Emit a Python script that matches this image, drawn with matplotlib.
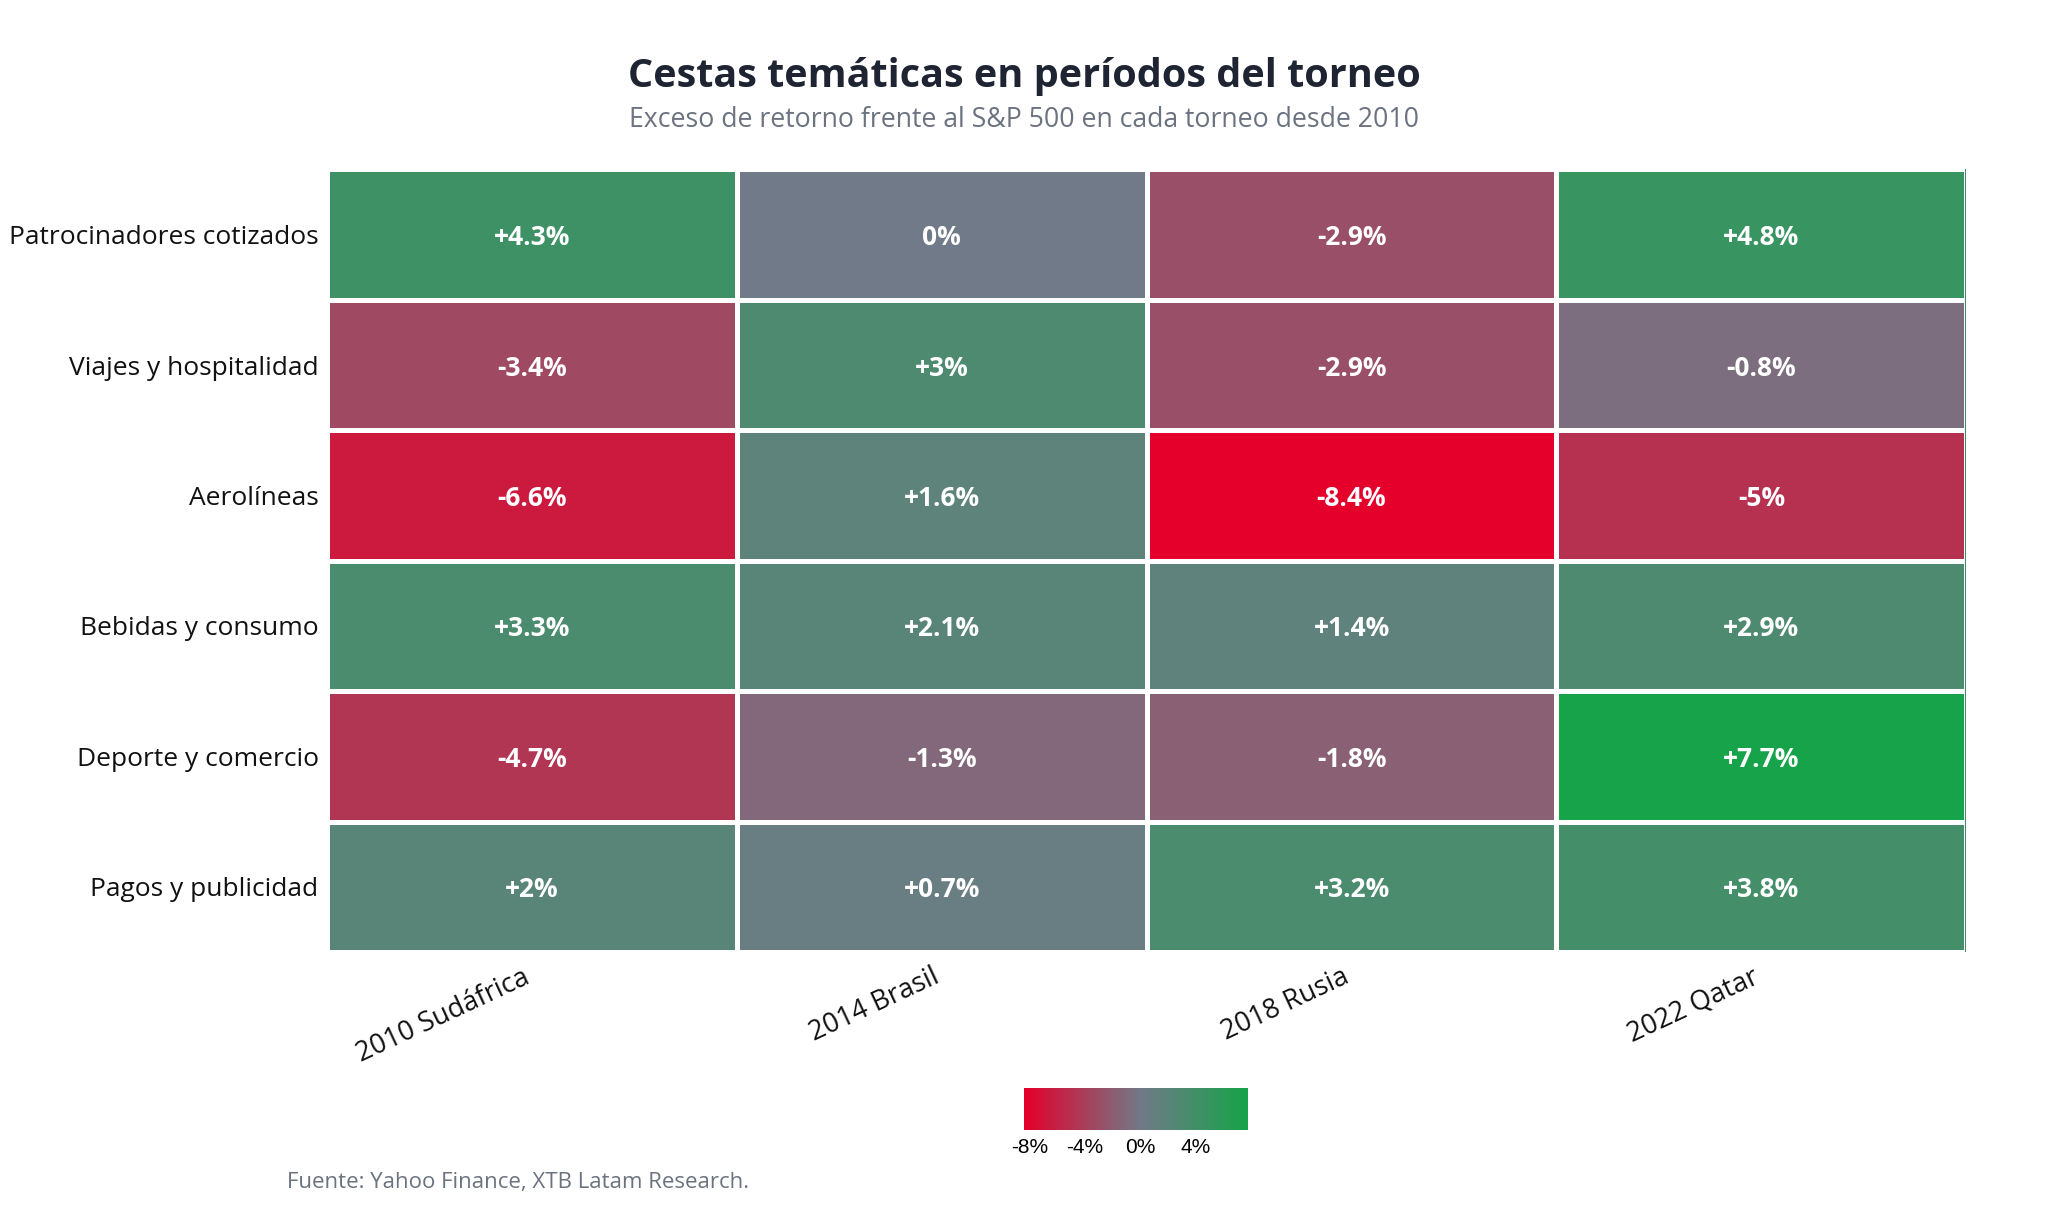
import numpy as np
import matplotlib.pyplot as plt
from matplotlib.colors import LinearSegmentedColormap, TwoSlopeNorm
from matplotlib.transforms import ScaledTranslation

plt.rcParams['font.family'] = ['Open Sans', 'DejaVu Sans']

# Datos
cestas = ["Patrocinadores cotizados", "Viajes y hospitalidad", "Aerolíneas",
          "Bebidas y consumo", "Deporte y comercio", "Pagos y publicidad"]
torneos = ["2010 Sudáfrica", "2014 Brasil", "2018 Rusia", "2022 Qatar"]
exceso = np.array([
    [4.3, 0.0, -2.9, 4.8],
    [-3.4, 3.0, -2.9, -0.8],
    [-6.6, 1.6, -8.4, -5.0],
    [3.3, 2.1, 1.4, 2.9],
    [-4.7, -1.3, -1.8, 7.7],
    [2.0, 0.7, 3.2, 3.8],
])
cb_ticks = [-8, -4, 0, 4]

cmap = LinearSegmentedColormap.from_list("rg", ["#E4002B", "#717A88", "#16A34A"])
norm = TwoSlopeNorm(vmin=exceso.min(), vcenter=0, vmax=exceso.max())

fig = plt.figure(figsize=(20.48, 12.22), dpi=100)
ax = fig.add_axes([0.1596, 0.2209, 0.8005, 0.6405])

ax.pcolormesh(exceso, cmap=cmap, norm=norm, edgecolors="white", linewidth=2.2)
ax.set_xlim(0, len(torneos))
ax.set_ylim(len(cestas), 0)

def fmt(v):
    if v == 0:
        return "0%"
    s = f"{v:+.1f}".rstrip("0").rstrip(".")
    return s + "%"

# valores en cada celda
off = ScaledTranslation(0, -0.03, fig.dpi_scale_trans)
for i in range(len(cestas)):
    for j in range(len(torneos)):
        ax.text(j + 0.5, i + 0.5, fmt(exceso[i, j]), ha="center", va="center",
                color="white", fontsize=19, fontweight="bold",
                transform=ax.transData + off)

ax.set_yticks(np.arange(len(cestas)) + 0.5)
ax.set_yticklabels(cestas, fontsize=19, color="#111111")
ax.set_xticks(np.arange(len(torneos)) + 0.5)
ax.set_xticklabels(torneos, fontsize=19.5, color="#111111", rotation=25,
                   ha="right", rotation_mode="anchor")
ax.tick_params(length=0, pad=6)
ax.tick_params(axis="x", pad=8)
for lbl in ax.get_xticklabels():
    lbl.set_transform(lbl.get_transform() + ScaledTranslation(-0.1, 0, fig.dpi_scale_trans))
for s in ax.spines.values():
    s.set_visible(False)
ax.axvline(len(torneos), color="#3f8f66", linewidth=1.5)

fig.text(0.5, 0.937, "Cestas temáticas en períodos del torneo", ha="center", va="center",
         fontsize=28.5, fontweight="bold", color="#1f2433")
fig.text(0.5, 0.902, "Exceso de retorno frente al S&P 500 en cada torneo desde 2010",
         ha="center", va="center", fontsize=19.2, color="#6b7280")

# Barra de color
cax = fig.add_axes([0.5, 0.0753, 0.109, 0.0344])
grad = np.linspace(exceso.min(), exceso.max(), 256)
cax.imshow(grad[np.newaxis, :], extent=[exceso.min(), exceso.max(), 0, 1],
           aspect="auto", cmap=cmap, norm=norm)
cax.set_yticks([])
cax.set_xticks(cb_ticks)
cax.set_xticklabels([f"{t}%" for t in cb_ticks], fontsize=15, family="Liberation Sans")
cax.tick_params(length=0, pad=6)
for s in cax.spines.values():
    s.set_visible(False)

fig.text(0.1402, 0.032, "Fuente: Yahoo Finance, XTB Latam Research.", ha="left", va="center",
         fontsize=16, color="#6b7280")

fig.savefig("out.png", dpi=100, facecolor="white")
